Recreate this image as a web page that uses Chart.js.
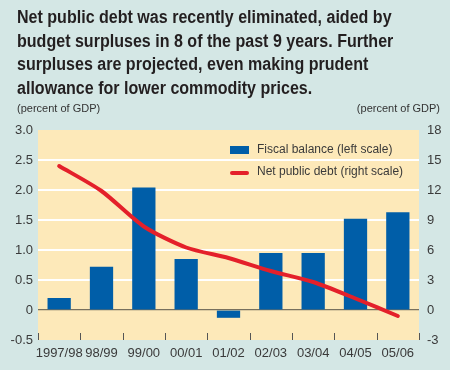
<!DOCTYPE html>
<html>
<head>
<meta charset="utf-8">
<script src="https://cdn.jsdelivr.net/npm/chart.js@4"></script>
<style>
  html, body { margin: 0; padding: 0; }
  body { width: 450px; height: 370px; background: #d4e7e5; position: relative; overflow: hidden; }
  #title {
    position: absolute; left: 17px; top: 6px; white-space: nowrap;
    font-family: "Liberation Sans", Arial, sans-serif;
    font-weight: bold; font-size: 17.5px; line-height: 23.7px;
    color: #231f20; transform-origin: 0 0;
  }
  .unit { position: absolute; top: 102px; font-family: "Liberation Sans", Arial, sans-serif; font-size: 11px; color: #333; }
  #unitL { left: 17px; }
  #unitR { right: 10px; }
  #wrap { position: absolute; left: 0; top: 0; width: 450px; height: 370px; }
</style>
</head>
<body>
<div id="wrap"><canvas id="chart" width="450" height="370"></canvas></div>
<div id="title">Net public debt was recently eliminated, aided by<br>budget surpluses in 8 of the past 9 years. Further<br>surpluses are projected, even making prudent<br>allowance for lower commodity prices.</div>
<div class="unit" id="unitL">(percent of GDP)</div>
<div class="unit" id="unitR">(percent of GDP)</div>
<script>
const years = ['1997/98', '98/99', '99/00', '00/01', '01/02', '02/03', '03/04', '04/05', '05/06'];
const fiscalBalance = [0.2, 0.72, 2.04, 0.85, -0.13, 0.95, 0.95, 1.52, 1.63];
const netDebt = [14.4, 11.9, 8.35, 6.25, 5.2, 3.9, 2.8, 1.15, -0.6];
const leftTicks = [-0.5, 0, 0.5, 1.0, 1.5, 2.0, 2.5, 3.0];
const rightTicks = [-3, 0, 3, 6, 9, 12, 15, 18];

const blue = '#005ea8';
const red = '#e4202a';
const textGrey = '#3a3a3a';
const tickFont = { family: '"Liberation Sans", Arial, sans-serif', size: 13 };

// squeeze the title to the condensed width of the original
const title = document.getElementById('title');
title.style.transform = 'scaleX(' + (376 / title.offsetWidth) + ')';

const plotBackground = {
    id: 'plotBackground',
    beforeDraw(chart) {
        const { ctx, chartArea: a } = chart;
        ctx.save();
        ctx.fillStyle = '#fde9b9';
        ctx.fillRect(a.left, a.top, a.right - a.left, a.bottom - a.top);
        ctx.restore();
    }
};

// small tick marks on the category boundaries, inside the plot bottom
const boundaryTicks = {
    id: 'boundaryTicks',
    afterDraw(chart) {
        const { ctx, chartArea: a } = chart;
        const x = chart.scales.x;
        ctx.save();
        ctx.strokeStyle = '#555';
        ctx.lineWidth = 1;
        for (let i = 0; i <= years.length; i++) {
            const px = Math.round(x.getPixelForValue(i - 0.5)) + 0.5;
            ctx.beginPath();
            ctx.moveTo(px, a.bottom);
            ctx.lineTo(px, a.bottom - 7);
            ctx.stroke();
        }
        ctx.restore();
    }
};

const boxLegend = {
    id: 'boxLegend',
    afterDraw(chart) {
        const { ctx, chartArea: a } = chart;
        const lx = a.left + 192;
        const tx = a.left + 219;
        const items = chart.data.datasets.slice().sort((p, q) => (p.type === 'bar' ? -1 : 1));
        ctx.save();
        ctx.font = '12px "Liberation Sans", Arial, sans-serif';
        ctx.textBaseline = 'middle';
        items.forEach((ds, i) => {
            const cy = a.top + 20 + i * 22;
            if (ds.type === 'bar') {
                ctx.fillStyle = blue;
                ctx.fillRect(lx, cy - 4, 19, 8);
            } else {
                ctx.strokeStyle = red;
                ctx.lineWidth = 4;
                ctx.lineCap = 'round';
                ctx.beginPath();
                ctx.moveTo(lx + 2, cy + 1);
                ctx.lineTo(lx + 17, cy + 1);
                ctx.stroke();
            }
            ctx.fillStyle = textGrey;
            ctx.fillText(ds.label, tx, cy);
        });
        ctx.restore();
    }
};

new Chart(document.getElementById('chart'), {
    data: {
        labels: years,
        datasets: [
            {
                type: 'line',
                label: 'Net public debt (right scale)',
                data: netDebt,
                yAxisID: 'yRight',
                borderColor: red,
                borderWidth: 4,
                borderCapStyle: 'round',
                pointRadius: 0,
                tension: 0.25,
                order: 0
            },
            {
                type: 'bar',
                label: 'Fiscal balance (left scale)',
                data: fiscalBalance,
                yAxisID: 'y',
                backgroundColor: blue,
                barPercentage: 0.55,
                categoryPercentage: 1,
                order: 1
            }
        ]
    },
    options: {
        responsive: false,
        animation: false,
        events: [],
        layout: { padding: { top: 130, left: 0, right: 0, bottom: 0 } },
        plugins: { legend: { display: false }, tooltip: { enabled: false } },
        scales: {
            x: {
                grid: { display: false },
                border: { display: false },
                ticks: { color: textGrey, font: tickFont, padding: -2, maxRotation: 0, autoSkip: false },
                afterFit(s) { s.height = 30; }
            },
            y: {
                position: 'left',
                min: -0.5,
                max: 3,
                afterBuildTicks(s) { s.ticks = leftTicks.map(v => ({ value: v })); },
                grid: {
                    color: c => c.tick.value === 0 ? '#77705e' : (c.tick.value === -0.5 || c.tick.value === 3 ? 'rgba(0,0,0,0)' : '#ffffff'),
                    lineWidth: c => c.tick.value === 0 ? 1.2 : 2,
                    drawTicks: false
                },
                border: { display: false },
                ticks: {
                    color: textGrey, font: tickFont, padding: 5,
                    callback: v => v === 0 ? '0' : v.toFixed(1)
                },
                afterFit(s) { s.width = 38; }
            },
            yRight: {
                position: 'right',
                min: -3,
                max: 18,
                afterBuildTicks(s) { s.ticks = rightTicks.map(v => ({ value: v })); },
                grid: { display: false, drawTicks: false },
                border: { display: false },
                ticks: { color: textGrey, font: tickFont, padding: 8 },
                afterFit(s) { s.width = 31; }
            }
        }
    },
    plugins: [plotBackground, boundaryTicks, boxLegend]
});
</script>
</body>
</html>
